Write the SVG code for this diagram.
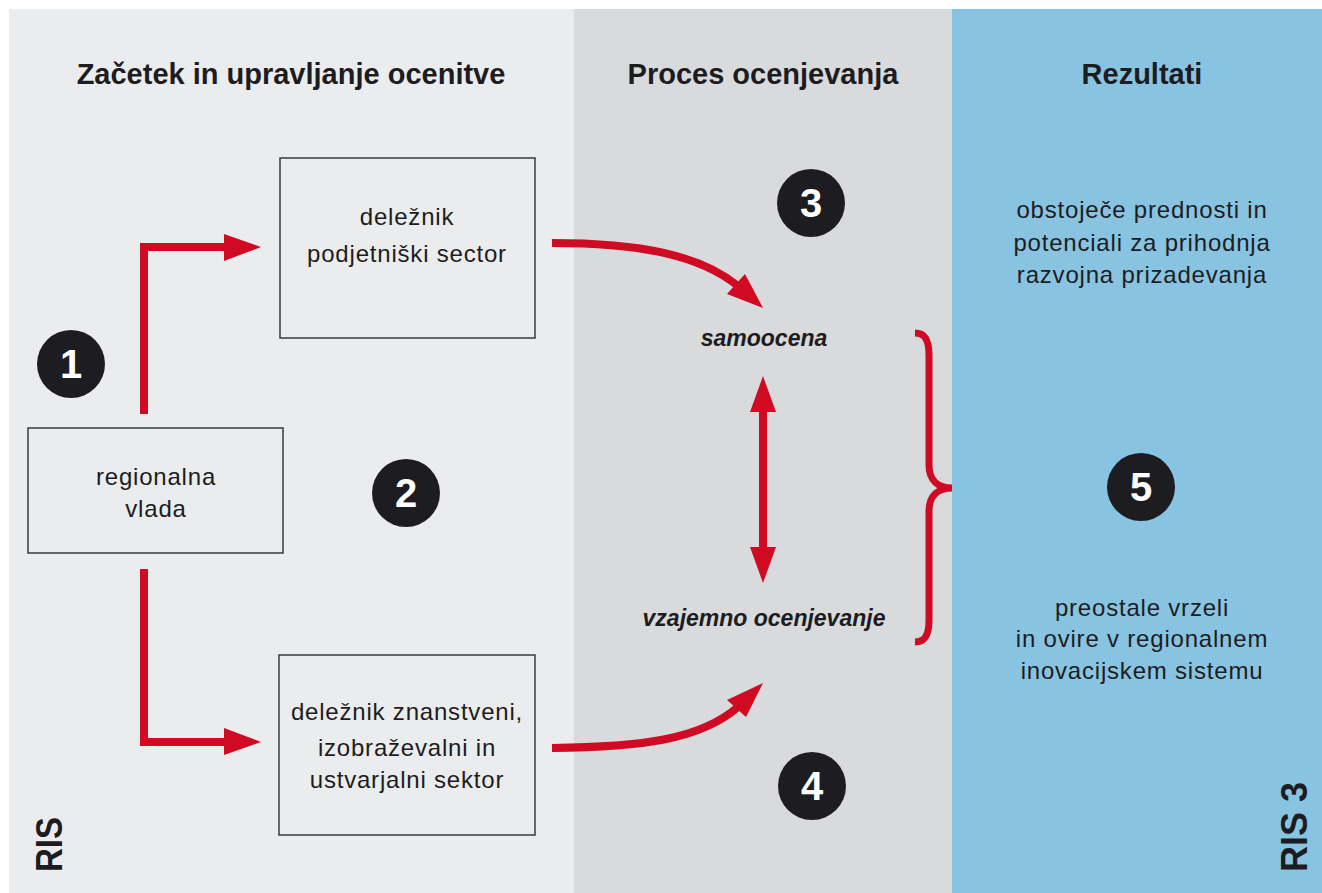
<svg xmlns="http://www.w3.org/2000/svg" width="1322" height="893" viewBox="0 0 1322 893">
<style>
.t{font-family:"Liberation Sans",Arial,sans-serif;fill:#1d1c21}
.title{font-size:29px;font-weight:bold}
.body{font-size:24px;letter-spacing:0.8px}
.it{font-size:23px;font-weight:bold;font-style:italic}
.ris{font-size:37px;font-weight:bold}
.box{fill:none;stroke:#3a3a3c;stroke-width:1.5}
.num{fill:#1d1c21}
.numt{font-family:"Liberation Sans",Arial,sans-serif;font-size:40px;font-weight:bold;fill:#ffffff}
.red{fill:none;stroke:#cf0a22;stroke-width:8}
.head{fill:#cf0a22}
</style>
<rect x="0" y="0" width="1322" height="893" fill="#ffffff"/>
<g id="panels">
<rect x="9" y="9" width="566" height="884" fill="#ebeced"/>
<rect x="574" y="9" width="378" height="884" fill="#d9dadc"/>
<rect x="952" y="9" width="370" height="884" fill="#88c4e1"/>
</g>
<g id="titles">
<text class="t title" x="291" y="84" text-anchor="middle">Začetek in upravljanje ocenitve</text>
<text class="t title" x="763" y="84" text-anchor="middle">Proces ocenjevanja</text>
<text class="t title" x="1142" y="84" text-anchor="middle">Rezultati</text>
</g>
<g id="connectors">
<path class="red" d="M144,414 V247 H226" stroke-linejoin="miter"/>
<polygon class="head" points="224,234 261,247 224,261"/>
<path class="red" d="M144,569 V742 H226" stroke-linejoin="miter"/>
<polygon class="head" points="224,728 261,742 224,755"/>
<path class="red" d="M552,243 C640,243 700,255 738,286"/>
<polygon class="head" points="727,294 763,308 745,274"/>
<path class="red" d="M552,748 C640,747 700,740 738,707"/>
<polygon class="head" points="727,700 763,683 746,717"/>
<path class="red" d="M763,408 V551"/>
<polygon class="head" points="750,412 763,376 776,412"/>
<polygon class="head" points="750,547 763,583 776,547"/>
<path class="red" style="stroke-width:7" d="M915,333 C925,333 929,340 929,355 V465 C929,480 938,488 952,488 C938,488 929,496 929,511 V620 C929,635 925,642 915,642"/>
</g>
<g id="node-podjetniski">
<rect class="box" x="280" y="158" width="255" height="180"/>
<text class="t body" x="407" y="225" text-anchor="middle">deležnik</text>
<text class="t body" x="407" y="262" text-anchor="middle">podjetniški sector</text>
</g>
<g id="node-vlada">
<rect class="box" x="28" y="428" width="255" height="125"/>
<text class="t body" x="156" y="485" text-anchor="middle">regionalna</text>
<text class="t body" x="156" y="517" text-anchor="middle">vlada</text>
</g>
<g id="node-znanstveni">
<rect class="box" x="279" y="655" width="256" height="180"/>
<text class="t body" x="407" y="720" text-anchor="middle">deležnik znanstveni,</text>
<text class="t body" x="407" y="756" text-anchor="middle">izobraževalni in</text>
<text class="t body" x="407" y="788" text-anchor="middle">ustvarjalni sektor</text>
</g>
<g id="node-samoocena">
<text class="t it" x="764" y="346" text-anchor="middle">samoocena</text>
</g>
<g id="node-vzajemno">
<text class="t it" x="764" y="626" text-anchor="middle">vzajemno ocenjevanje</text>
</g>
<g id="node-prednosti">
<text class="t body" x="1142" y="218" text-anchor="middle">obstoječe prednosti in</text>
<text class="t body" x="1142" y="251" text-anchor="middle">potenciali za prihodnja</text>
<text class="t body" x="1142" y="283" text-anchor="middle">razvojna prizadevanja</text>
</g>
<g id="node-vrzeli">
<text class="t body" x="1142" y="616" text-anchor="middle">preostale vrzeli</text>
<text class="t body" x="1142" y="647" text-anchor="middle">in ovire v regionalnem</text>
<text class="t body" x="1142" y="679" text-anchor="middle">inovacijskem sistemu</text>
</g>
<g id="badge-1"><circle class="num" cx="71" cy="364" r="34"/><text class="numt" x="71" y="378" text-anchor="middle">1</text></g>
<g id="badge-2"><circle class="num" cx="406" cy="493" r="34"/><text class="numt" x="406" y="507" text-anchor="middle">2</text></g>
<g id="badge-3"><circle class="num" cx="811" cy="203" r="34"/><text class="numt" x="811" y="217" text-anchor="middle">3</text></g>
<g id="badge-4"><circle class="num" cx="812" cy="786" r="34"/><text class="numt" x="812" y="800" text-anchor="middle">4</text></g>
<g id="badge-5"><circle class="num" cx="1141" cy="487" r="34"/><text class="numt" x="1141" y="501" text-anchor="middle">5</text></g>
<g id="labels-ris">
<text class="t ris" transform="translate(62,872) rotate(-90)" textLength="55" lengthAdjust="spacingAndGlyphs">RIS</text>
<text class="t ris" transform="translate(1307,872) rotate(-90)" textLength="90" lengthAdjust="spacingAndGlyphs">RIS 3</text>
</g>
</svg>
